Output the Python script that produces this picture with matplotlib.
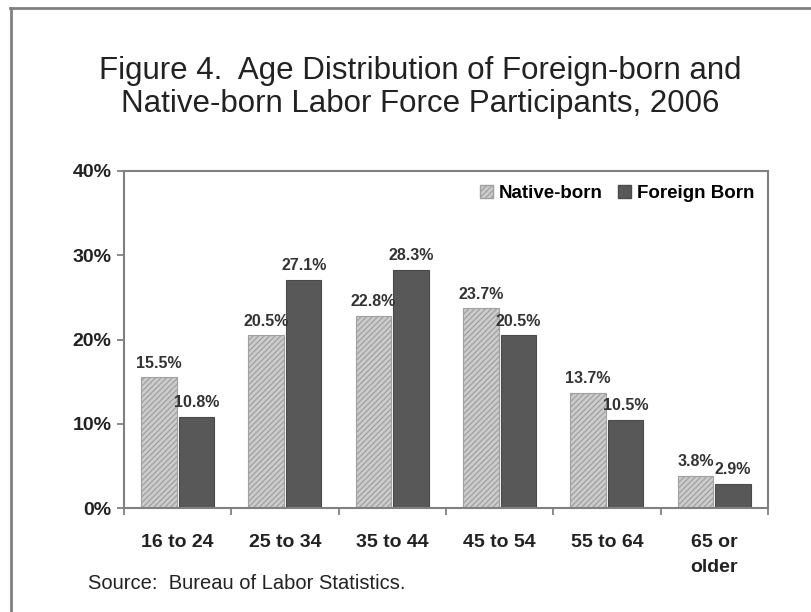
import numpy as np
import matplotlib
matplotlib.use("Agg")
import matplotlib.pyplot as plt
from matplotlib.patches import Rectangle
from matplotlib.lines import Line2D

categories = ["16 to 24", "25 to 34", "35 to 44", "45 to 54", "55 to 64", "65 or\nolder"]
native_born = [15.5, 20.5, 22.8, 23.7, 13.7, 3.8]
foreign_born = [10.8, 27.1, 28.3, 20.5, 10.5, 2.9]
y_ticks = [0, 10, 20, 30, 40]

plt.rcParams['font.family'] = ['Liberation Sans', 'DejaVu Sans']
plt.rcParams['hatch.color'] = '#7a7a7a'
plt.rcParams['hatch.linewidth'] = 0.9

fig = plt.figure(figsize=(8.12, 6.12), dpi=100)
ax = fig.add_axes([0.1527, 0.1699, 0.7931, 0.5507])

x = np.arange(len(categories))
w = 0.33
ax.bar(x - 0.175, native_born, width=w, color='#cccccc', edgecolor='#a0a0a0',
       hatch='//////', linewidth=0.8, label='Native-born')
ax.bar(x + 0.175, foreign_born, width=w, color='#585858', edgecolor='#4a4a4a',
       linewidth=0.8, label='Foreign Born')

for xi, v in zip(x, native_born):
    ax.text(xi - 0.175, v + 0.8, f"{v:.1f}%", ha='center', va='bottom',
            fontsize=11.5, fontweight='bold', color='#333333')
for xi, v in zip(x, foreign_born):
    ax.text(xi + 0.175, v + 0.8, f"{v:.1f}%", ha='center', va='bottom',
            fontsize=11.5, fontweight='bold', color='#333333')

ax.set_xlim(-0.5, len(categories) - 0.5)
ax.set_ylim(0, 40)
ax.set_yticks(y_ticks)
ax.set_yticklabels([f"{t}%" for t in y_ticks], fontsize=14, fontweight='bold', color='#222222')
ax.set_xticks(x)
ax.set_xticklabels(categories, fontsize=14, fontweight='bold', color='#222222', linespacing=1.6)
ax.set_xticks(np.arange(len(categories) + 1) - 0.5, minor=True)
ax.tick_params(axis='x', which='major', length=0, pad=19)
ax.tick_params(axis='x', which='minor', length=5, direction='out', color='#777777', width=1.2)
ax.tick_params(axis='y', length=5, direction='out', color='#777777', width=1.2, pad=4)
for s in ax.spines.values():
    s.set_color('#808080')
    s.set_linewidth(1.5)

handles = [Rectangle((0, 0), 1, 1, facecolor='#cccccc', edgecolor='#a0a0a0', hatch='//////'),
           Rectangle((0, 0), 1, 1, facecolor='#585858', edgecolor='#4a4a4a')]
ax.legend(handles, ['Native-born', 'Foreign Born'], loc='upper right', ncol=2,
          frameon=False, prop={'weight': 'bold', 'size': 13.5},
          handlelength=0.7, handleheight=0.7, handletextpad=0.3,
          columnspacing=0.8, borderaxespad=0.35)

fig.text(0.517, 0.857, "Figure 4.  Age Distribution of Foreign-born and\nNative-born Labor Force Participants, 2006",
         ha='center', va='center', fontsize=22.5, color='#222222', linespacing=1.1)
fig.text(0.108, 0.047, "Source:  Bureau of Labor Statistics.", ha='left', va='center',
         fontsize=14.5, color='#222222')

# outer frame of the original figure (cropped at right and bottom)
fig.add_artist(Line2D([0.012, 1.0], [0.987, 0.987], color='#808080', lw=2))
fig.add_artist(Line2D([0.014, 0.014], [0.0, 0.987], color='#808080', lw=2))

fig.savefig("out.png", dpi=100)
